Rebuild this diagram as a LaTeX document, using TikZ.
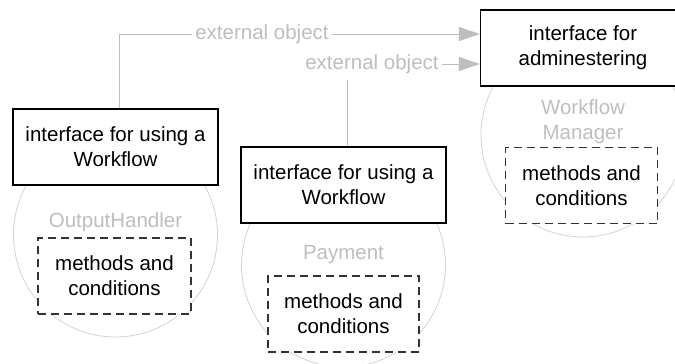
\documentclass[tikz,border=0pt]{standalone}
\usepackage{fontspec}
\setmainfont{Liberation Sans}
\usetikzlibrary{arrows.meta}
\definecolor{faint}{HTML}{BEBEBE}
\definecolor{ring}{HTML}{D2D2D2}
\definecolor{dashgrey}{HTML}{333333}
\begin{document}
\begin{tikzpicture}[x=1pt,y=-1pt,
  txt/.style={font=\fontsize{20.5}{25}\selectfont},
  iface/.style={txt,draw=black,line width=1.1pt,fill=white,
    minimum width=205pt,minimum height=76pt,align=center,inner sep=0pt},
  inner/.style={txt,draw=dashgrey,line width=1.1pt,dash pattern=on 8pt off 5pt,
    fill=white,minimum height=76pt,align=center,inner sep=0pt},
  comp/.style={circle,draw=ring,line width=0.8pt,minimum size=204pt,inner sep=0pt},
  cname/.style={txt,text=faint,align=center},
  lab/.style={txt,text=faint,inner xsep=3pt,inner ysep=6pt},
  conn/.style={draw=faint,line width=1pt},
  tip/.style={-{Triangle[length=21pt,width=14pt]}}
]
\useasboundingbox (0,0) rectangle (675,364);
\clip (0,0) rectangle (675,364);

% components
\node[comp] (c1) at (115.5,235) {};
\node[comp] (c2) at (343.5,265) {};
\node[comp] (c3) at (583,135) {};

% component names
\node[cname] (n1) at (115.5,222) {OutputHandler};
\node[cname] (n2) at (343.5,255) {Payment};
\node[cname] (n3) at (583,122) {Workflow\\Manager};

% internals
\node[inner,minimum width=153pt] (m1) at (114.5,276) {methods and\\conditions};
\node[inner,minimum width=151pt] (m2) at (343.5,314) {methods and\\conditions};
\node[inner,minimum width=152pt] (m3) at (581.5,185.5) {methods and\\conditions};

% interfaces
\node[iface] (i1) at (115.5,147) {interface for using a\\Workflow};
\node[iface] (i2) at (343.5,185) {interface for using a\\Workflow};
\node[iface] (i3) at (583,48) {interface for\\adminestering};

% external object labels
\node[lab] (e1) at (262,34) {external object};
\node[lab] (e2) at (372,64) {external object};

% connectors
\draw[conn] ([xshift=3.5pt]i1.north) |- (e1.west);
\draw[conn,tip] (e1.east) -- (i3.west |- e1.east);
\draw[conn] ([xshift=3.5pt]i2.north) -- ([xshift=3.5pt]i2.north |- e2.south);
\draw[conn,tip] (e2.east) -- (i3.west |- e2.east);
\end{tikzpicture}
\end{document}
